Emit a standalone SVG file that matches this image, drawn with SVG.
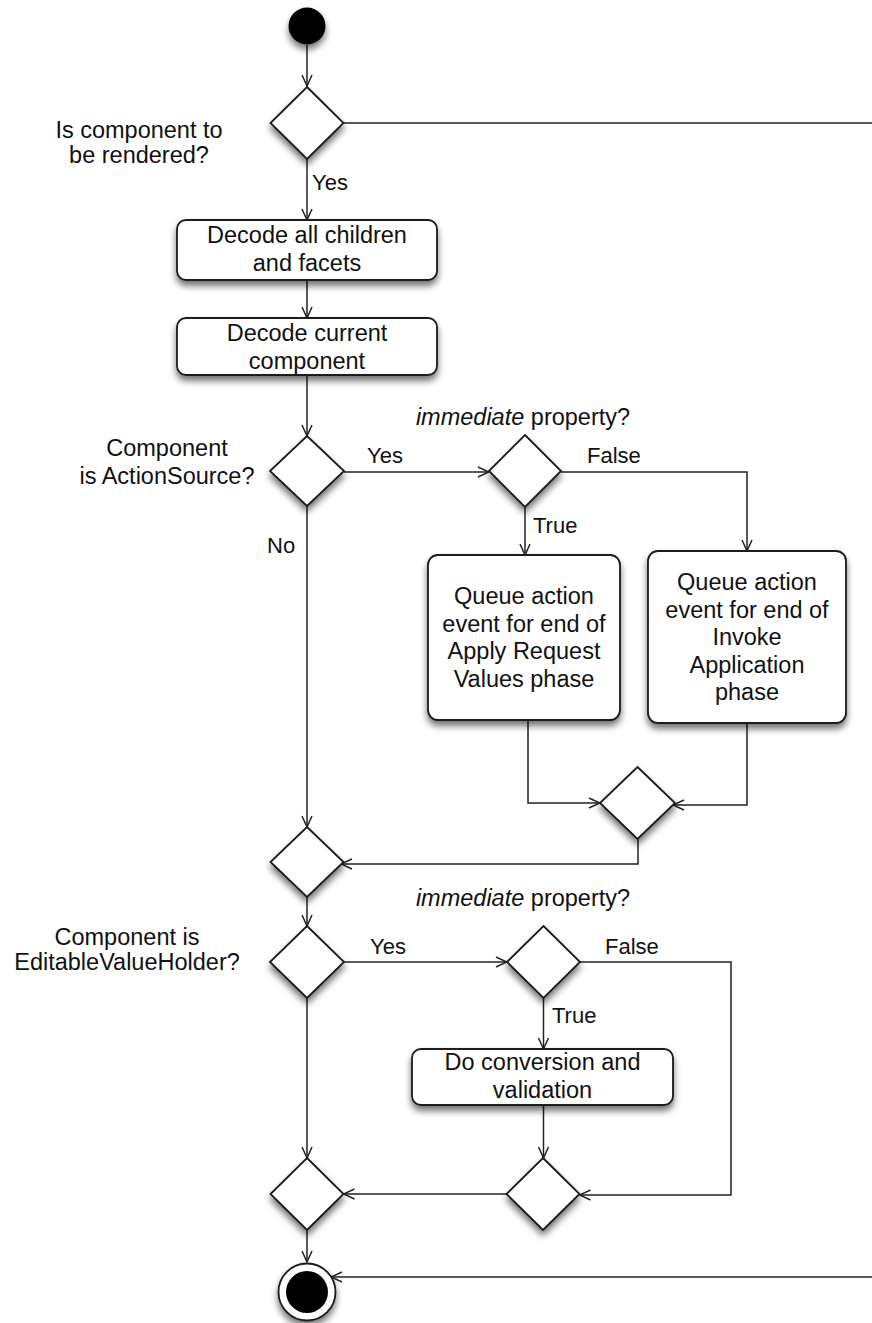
<svg xmlns="http://www.w3.org/2000/svg" width="872" height="1323" viewBox="0 0 872 1323">
  <defs>
    <style>
      .node { fill: #fff; stroke: #1a1a1a; stroke-width: 1.8; }
      .dot { fill: #000; }
      .edge { fill: none; stroke: #222; stroke-width: 1.5; }
      .t { font-family: "Liberation Sans", Arial, Helvetica, sans-serif; font-size: 23.5px; fill: #111; text-anchor: middle; }
      .lbl { font-family: "Liberation Sans", Arial, Helvetica, sans-serif; font-size: 22px; fill: #111; }
      .it { font-style: italic; }
    </style>
    <filter id="shadow" x="-40%" y="-40%" width="180%" height="190%">
      <feGaussianBlur in="SourceAlpha" stdDeviation="3.5"/>
      <feOffset dx="0" dy="5"/>
      <feComponentTransfer><feFuncA type="linear" slope="0.55"/></feComponentTransfer>
      <feMerge><feMergeNode/><feMergeNode in="SourceGraphic"/></feMerge>
    </filter>
    <marker id="arrow" viewBox="-13 -7 14 14" refX="0" refY="0" markerWidth="14" markerHeight="14" markerUnits="userSpaceOnUse" orient="auto">
      <path d="M-11,-5 L0,0 L-11,5" fill="none" stroke="#222" stroke-width="1.5"/>
    </marker>
  </defs>

  <!-- connectors -->
  <g id="connectors" class="edge">
    <path d="M307,45 V86" marker-end="url(#arrow)"/>
    <path d="M343.5,123 H880 V1277 H331" marker-end="url(#arrow)"/>
    <path d="M307,159 V220" marker-end="url(#arrow)"/>
    <path d="M307,280 V318" marker-end="url(#arrow)"/>
    <path d="M307,375 V436" marker-end="url(#arrow)"/>
    <path d="M344,472 H489" marker-end="url(#arrow)"/>
    <path d="M561,472 H747 V551" marker-end="url(#arrow)"/>
    <path d="M525,507 V555" marker-end="url(#arrow)"/>
    <path d="M528,720 V803 H600" marker-end="url(#arrow)"/>
    <path d="M747,723 V805 H673" marker-end="url(#arrow)"/>
    <path d="M638,839 V864 H341" marker-end="url(#arrow)"/>
    <path d="M307,506 V827" marker-end="url(#arrow)"/>
    <path d="M307,897 V926" marker-end="url(#arrow)"/>
    <path d="M344,962 H507" marker-end="url(#arrow)"/>
    <path d="M580,962 H731 V1195 H579.5" marker-end="url(#arrow)"/>
    <path d="M543.5,998 V1049" marker-end="url(#arrow)"/>
    <path d="M543.5,1105 V1158" marker-end="url(#arrow)"/>
    <path d="M506.5,1194 H343.5" marker-end="url(#arrow)"/>
    <path d="M307,998 V1158" marker-end="url(#arrow)"/>
    <path d="M307,1230 V1262" marker-end="url(#arrow)"/>
  </g>

  <!-- edge labels -->
  <g id="labels">
    <text class="lbl" x="312" y="190">Yes</text>
    <text class="lbl" x="367" y="463">Yes</text>
    <text class="lbl" x="587" y="463">False</text>
    <text class="lbl" x="533" y="533">True</text>
    <text class="lbl" x="267" y="553">No</text>
    <text class="lbl" x="370" y="954">Yes</text>
    <text class="lbl" x="605" y="954">False</text>
    <text class="lbl" x="552" y="1023">True</text>
  </g>

  <g id="start">
    <circle class="dot" cx="307" cy="26" r="18.5" filter="url(#shadow)"/>
  </g>

  <g id="render-check">
    <polygon class="node" points="307,87 343.5,123 307,159 270.5,123" filter="url(#shadow)"/>
    <text class="t" x="139" y="138">Is component to</text>
    <text class="t" x="139" y="163">be rendered?</text>
  </g>

  <g id="decode-children">
    <rect class="node" x="177" y="220" width="260" height="60" rx="9" filter="url(#shadow)"/>
    <text class="t" x="307" y="243">Decode all children</text>
    <text class="t" x="307" y="271">and facets</text>
  </g>

  <g id="decode-current">
    <rect class="node" x="177" y="318" width="260" height="57" rx="9" filter="url(#shadow)"/>
    <text class="t" x="307" y="341">Decode current</text>
    <text class="t" x="307" y="369">component</text>
  </g>

  <g id="action-source-check">
    <polygon class="node" points="307,436 344,471 307,506 270,471" filter="url(#shadow)"/>
    <text class="t" x="167" y="456">Component</text>
    <text class="t" x="167" y="484">is ActionSource?</text>
  </g>

  <g id="action-immediate-check">
    <polygon class="node" points="525,435 561,471 525,507 489,471" filter="url(#shadow)"/>
    <text class="t" x="523" y="425"><tspan class="it">immediate</tspan> property?</text>
  </g>

  <g id="queue-apply-request">
    <rect class="node" x="428" y="555" width="192" height="165" rx="10" filter="url(#shadow)"/>
    <text class="t" x="524" y="604">Queue action</text>
    <text class="t" x="524" y="632">event for end of</text>
    <text class="t" x="524" y="659">Apply Request</text>
    <text class="t" x="524" y="687">Values phase</text>
  </g>

  <g id="queue-invoke-application">
    <rect class="node" x="648" y="551" width="198" height="172" rx="10" filter="url(#shadow)"/>
    <text class="t" x="747" y="590">Queue action</text>
    <text class="t" x="747" y="617.5">event for end of</text>
    <text class="t" x="747" y="645">Invoke</text>
    <text class="t" x="747" y="672.5">Application</text>
    <text class="t" x="747" y="700">phase</text>
  </g>

  <g id="merge-queue">
    <polygon class="node" points="637.5,767 675,803 637.5,839 600,803" filter="url(#shadow)"/>
  </g>

  <g id="merge-action">
    <polygon class="node" points="307,827 343.5,862 307,897 270.5,862" filter="url(#shadow)"/>
  </g>

  <g id="value-holder-check">
    <polygon class="node" points="307,926 344,962 307,998 270,962" filter="url(#shadow)"/>
    <text class="t" x="127" y="945">Component is</text>
    <text class="t" x="127" y="970">EditableValueHolder?</text>
  </g>

  <g id="value-immediate-check">
    <polygon class="node" points="543.5,926 580,962 543.5,998 507,962" filter="url(#shadow)"/>
    <text class="t" x="523" y="906"><tspan class="it">immediate</tspan> property?</text>
  </g>

  <g id="convert-validate">
    <rect class="node" x="412" y="1049" width="261" height="56" rx="9" filter="url(#shadow)"/>
    <text class="t" x="542.5" y="1070">Do conversion and</text>
    <text class="t" x="542.5" y="1098">validation</text>
  </g>

  <g id="merge-value">
    <polygon class="node" points="543,1158 579.5,1194 543,1230 506.5,1194" filter="url(#shadow)"/>
  </g>

  <g id="merge-final">
    <polygon class="node" points="307,1158 343.5,1194 307,1230 270.5,1194" filter="url(#shadow)"/>
  </g>

  <g id="end">
    <circle class="node" cx="307" cy="1292" r="28.5" stroke-width="2" filter="url(#shadow)"/>
    <circle class="dot" cx="307" cy="1292" r="21"/>
  </g>
</svg>
